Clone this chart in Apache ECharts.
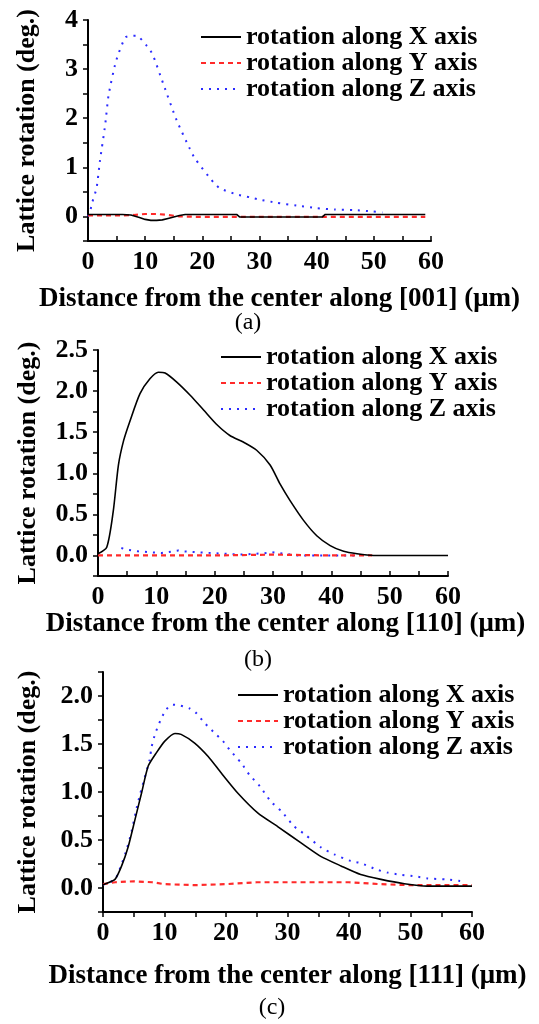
<!DOCTYPE html>
<html>
<head>
<meta charset="utf-8">
<script src="https://cdn.jsdelivr.net/npm/echarts@6.0.0/dist/echarts.min.js"></script>
<style>
html,body{margin:0;padding:0;background:#fff;}
#chart{width:539px;height:1024px;}
</style>
</head>
<body>
<div id="chart"></div>
<script>
// ---------- data ----------
const seriesNames = ['rotation along X axis', 'rotation along Y axis', 'rotation along Z axis'];
const xAxisNames = [
  'Distance from the center along [001] (\u03bcm)',
  'Distance from the center along [110] (\u03bcm)',
  'Distance from the center along [111] (\u03bcm)'
];
const yAxisName = 'Lattice rotation (deg.)';
const captions = ['(a)', '(b)', '(c)'];

// panel (a)  [001]
const aX_dist = [0, 3, 6, 7.5, 9, 10, 11, 12, 13, 14, 15, 16, 17, 20, 23, 26, 26.5, 30, 35, 40, 41, 41.5, 45, 50, 55, 59];
const aX_val  = [0.04, 0.04, 0.04, 0.03, -0.02, -0.06, -0.08, -0.08, -0.07, -0.04, -0.01, 0.02, 0.04, 0.04, 0.04, 0.04, -0.01, -0.01, -0.01, -0.01, -0.01, 0.04, 0.04, 0.04, 0.04, 0.04];
const aY_dist = [0, 3, 6, 8, 10, 12, 14, 16, 20, 30, 40, 50, 59];
const aY_val  = [0.02, 0.02, 0.02, 0.03, 0.05, 0.05, 0.03, 0.0, -0.01, -0.01, -0.01, -0.01, -0.01];
const aZ_dist = [0, 0.35, 0.7, 1.5, 2.1, 3.0, 3.6, 4.9, 6.6, 8.5, 10.3, 11.3, 13.2, 15.5, 17.8, 18.7, 21.9, 23.1, 26, 28.3, 29.7, 33, 36.5, 40, 43.2, 46.4, 49.9, 51.5];
const aZ_val  = [0.0, 0.09, 0.27, 0.58, 1.14, 1.86, 2.47, 3.16, 3.65, 3.68, 3.47, 3.3, 2.69, 1.96, 1.38, 1.18, 0.70, 0.57, 0.45, 0.39, 0.35, 0.28, 0.22, 0.17, 0.14, 0.13, 0.10, 0.08];

// panel (b)  [110]
const bX_dist = [0, 1.5, 2.6, 3.5, 4.4, 5.5, 7.2, 8.9, 10.35, 11.5, 13.5, 15.8, 18.1, 20.4, 22.6, 24.9, 27.2, 29.5, 31.2, 32.9, 35.2, 37.5, 39.8, 42.1, 44.4, 47.2, 50, 55, 60];
const bX_val  = [0.02, 0.1, 0.53, 1.1, 1.4, 1.64, 1.97, 2.15, 2.23, 2.22, 2.11, 1.95, 1.77, 1.59, 1.46, 1.38, 1.28, 1.10, 0.87, 0.67, 0.43, 0.24, 0.12, 0.05, 0.02, 0.0, 0.0, 0.0, 0.0];
const bY_dist = [0, 10, 20, 30, 40, 47];
const bY_val  = [0.0, 0.0, 0.0, 0.01, 0.0, 0.0];
const bZ_dist = [4, 4.9, 6.9, 10.9, 13.8, 14.4, 19.3, 24.4, 29, 29.9, 34.3, 40, 44.4];
const bZ_val  = [0.09, 0.07, 0.05, 0.03, 0.06, 0.05, 0.03, 0.01, 0.03, 0.04, 0.0, 0.0, 0.0];

// panel (c)  [111]
const cX_dist = [0, 1.95, 3.03, 4.1, 5.19, 6.27, 7.35, 8.7, 10.05, 11.7, 12.7, 14.9, 17.1, 19.2, 21.9, 25.2, 28.4, 32.2, 35.4, 38.7, 41.9, 45.2, 49, 52.7, 60];
const cX_val  = [0.035, 0.09, 0.23, 0.43, 0.71, 0.99, 1.27, 1.41, 1.53, 1.61, 1.60, 1.51, 1.37, 1.20, 0.99, 0.78, 0.64, 0.47, 0.33, 0.23, 0.14, 0.09, 0.045, 0.02, 0.02];
const cY_dist = [0, 2, 5, 8, 10, 15, 20, 25, 30, 40, 45, 50, 60];
const cY_val  = [0.04, 0.06, 0.07, 0.06, 0.04, 0.03, 0.04, 0.06, 0.06, 0.06, 0.04, 0.03, 0.03];
const cZ_dist = [0, 1.95, 3.03, 3.84, 4.65, 5.46, 6.0, 6.7, 7.6, 7.9, 8.5, 9.5, 10.3, 11.2, 12.6, 14.1, 15.2, 16.5, 17.9, 19.5, 20.6, 22.5, 23.8, 25.5, 27.3, 29.0, 31.1, 32.8, 35.5, 37.6, 40.3, 41.9, 44.6, 46.3, 48.2, 50.9, 52.8, 55.7, 58.4];
const cZ_val  = [0.035, 0.09, 0.25, 0.40, 0.59, 0.83, 0.97, 1.13, 1.34, 1.47, 1.61, 1.77, 1.86, 1.91, 1.90, 1.87, 1.82, 1.72, 1.63, 1.53, 1.44, 1.30, 1.18, 1.06, 0.90, 0.80, 0.64, 0.56, 0.42, 0.35, 0.28, 0.26, 0.19, 0.16, 0.14, 0.12, 0.10, 0.09, 0.07];

// ---------- chart ----------
const FONT = '"Liberation Serif", "Times New Roman", serif';
const zip = (xs, ys) => xs.map((x, i) => [x, ys[i]]);

const grids = [
  {left: 88, top: 20, width: 343, height: 221},
  {left: 98, top: 350, width: 350, height: 226},
  {left: 103, top: 672, width: 369, height: 240}
];
const yRange = [{min: -0.5, max: 4, interval: 0.5}, {min: -0.25, max: 2.5, interval: 0.25}, {min: -0.25, max: 2.25, interval: 0.25}];
const yLabelFmt = [
  v => (Math.abs(v - Math.round(v)) < 1e-6 && v >= 0) ? String(Math.round(v)) : '',
  v => (Math.abs(v * 2 - Math.round(v * 2)) < 1e-6 && v >= 0) ? v.toFixed(1) : '',
  v => (Math.abs(v * 2 - Math.round(v * 2)) < 1e-6 && v >= 0) ? v.toFixed(1) : ''
];
const xNameGap = [45, 35, 51];
const xNamePad = [[0, 0, 0, 40], [0, 0, 0, 25], [0, 0, 0, 0]];
const yNameGap = [48, 57, 62];
const xTickInside = [true, true, false];
const legendPos = [{left: 195, top: 19}, {left: 215, top: 339}, {left: 232, top: 677}];
const captionPos = [[248, 323], [258, 660], [272, 1008]];

const black = '#000000';
const styles = [
  {color: '#000000', width: 1.6, type: 'solid'},
  {color: '#ff2a2a', width: 2.2, type: [5, 4]},
  {color: '#2b2bff', width: 2, type: [2, 6]}
];

const panelData = [
  [zip(aX_dist, aX_val), zip(aY_dist, aY_val), zip(aZ_dist, aZ_val)],
  [zip(bX_dist, bX_val), zip(bY_dist, bY_val), zip(bZ_dist, bZ_val)],
  [zip(cX_dist, cX_val), zip(cY_dist, cY_val), zip(cZ_dist, cZ_val)]
];
const smoothFlags = [[false, false, 0.2], [0.25, false, false], [0.2, false, 0.2]];

const xAxis = [], yAxis = [], series = [], legend = [], graphic = [];
for (let p = 0; p < 3; p++) {
  xAxis.push({
    type: 'value', gridIndex: p, min: 0, max: 60, interval: 5,
    name: xAxisNames[p], nameLocation: 'middle', nameGap: xNameGap[p],
    nameTextStyle: {fontFamily: FONT, fontWeight: 'bold', fontSize: 27, color: black, padding: xNamePad[p]},
    axisLine: {show: true, onZero: false, lineStyle: {color: black, width: 2}},
    axisTick: {show: true, inside: xTickInside[p], length: 5, lineStyle: {color: black, width: 1.5}},
    splitLine: {show: false},
    axisLabel: {fontFamily: FONT, fontWeight: 'bold', fontSize: 26, color: black, margin: 8,
      formatter: v => (Math.round(v) % 10 === 0 ? String(Math.round(v)) : '')}
  });
  yAxis.push({
    type: 'value', gridIndex: p, min: yRange[p].min, max: yRange[p].max, interval: yRange[p].interval,
    name: yAxisName, nameLocation: 'middle', nameGap: yNameGap[p], nameRotate: 90,
    nameTextStyle: {fontFamily: FONT, fontWeight: 'bold', fontSize: 26, color: black},
    axisLine: {show: true, onZero: false, lineStyle: {color: black, width: 2}},
    axisTick: {show: true, inside: false, length: 5, lineStyle: {color: black, width: 1.5}},
    splitLine: {show: false},
    axisLabel: {fontFamily: FONT, fontWeight: 'bold', fontSize: 26, color: black, margin: 10, formatter: yLabelFmt[p]}
  });
  for (let s = 0; s < 3; s++) {
    series.push({
      type: 'line', name: seriesNames[s], xAxisIndex: p, yAxisIndex: p,
      data: panelData[p][s], showSymbol: false, symbol: 'none', smooth: smoothFlags[p][s],
      lineStyle: {color: styles[s].color, width: styles[s].width, type: styles[s].type},
      itemStyle: {color: styles[s].color},
      z: 3 - s, animation: false
    });
  }
  legend.push({
    left: legendPos[p].left, top: legendPos[p].top, orient: 'vertical',
    data: seriesNames, selectedMode: false,
    itemWidth: 40, itemHeight: 14, itemGap: 0,
    itemStyle: {color: 'rgba(0,0,0,0)', borderWidth: 0, opacity: 0},
    textStyle: {fontFamily: FONT, fontWeight: 'bold', fontSize: 26, color: black, lineHeight: 25}
  });
  graphic.push({
    type: 'text', x: captionPos[p][0], y: captionPos[p][1],
    style: {text: captions[p], font: '24px "Liberation Serif", serif', fill: black, align: 'center', verticalAlign: 'middle'}
  });
}

const chart = echarts.init(document.getElementById('chart'), null, {renderer: 'canvas'});
chart.setOption({
  backgroundColor: '#ffffff',
  animation: false,
  grid: grids,
  xAxis: xAxis,
  yAxis: yAxis,
  legend: legend,
  graphic: graphic,
  series: series
});
</script>
</body>
</html>
